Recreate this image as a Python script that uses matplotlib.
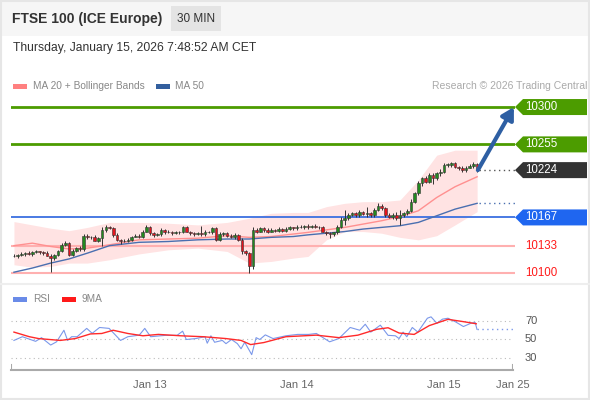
import numpy as np
import matplotlib
matplotlib.use("Agg")
import matplotlib.pyplot as plt
from matplotlib.patches import Rectangle, Polygon
from matplotlib.transforms import IdentityTransform, blended_transform_factory

plt.rcParams["font.family"] = ["Liberation Sans", "DejaVu Sans"]

# 30 min candles, index 0 = first visible bar
first_open = 10121
closes = [10120, 10122, 10123, 10124, 10123, 10125, 10126, 10125, 10124, 10121,
          10118, 10122, 10126, 10134, 10136, 10122, 10127, 10130, 10129, 10145,
          10143, 10144, 10139, 10142, 10152, 10155, 10154, 10146, 10140, 10138,
          10139, 10140, 10144, 10145, 10144, 10150, 10156, 10148, 10146, 10147,
          10152, 10149, 10150, 10148, 10149, 10150, 10155, 10150, 10148, 10147,
          10148, 10147, 10150, 10149, 10154, 10140, 10147, 10148, 10145, 10143,
          10146, 10140, 10126, 10124, 10108, 10152, 10150, 10154, 10152, 10150,
          10152, 10151, 10153, 10151, 10153, 10155, 10154, 10156, 10155, 10157,
          10155, 10157, 10156, 10155, 10150, 10148, 10147, 10149, 10156, 10164,
          10166, 10170, 10172, 10170, 10173, 10171, 10172, 10170, 10176, 10181,
          10178, 10170, 10168, 10170, 10166, 10170, 10172, 10175, 10186, 10196,
          10208, 10214, 10210, 10218, 10214, 10220, 10222, 10230, 10230, 10232,
          10228, 10227, 10224, 10227, 10229, 10231, 10224]
wick_up = [2, 1, 2, 1, 2, 1, 2, 1, 1, 2,
           2, 1, 2, 2, 3, 1, 2, 1, 2, 2,
           2, 1, 2, 2, 3, 3, 2, 1, 2, 1,
           2, 2, 1, 2, 2, 2, 2, 1, 2, 1,
           2, 1, 2, 1, 2, 1, 2, 2, 1, 2,
           2, 9, 2, 1, 2, 1, 2, 2, 1, 2,
           2, 1, 2, 2, 1, 3, 2, 2, 1, 2,
           2, 1, 2, 1, 2, 2, 1, 2, 2, 1,
           2, 1, 2, 1, 2, 1, 2, 1, 2, 3,
           10, 2, 2, 1, 3, 2, 8, 2, 2, 3,
           2, 1, 2, 2, 3, 6, 2, 2, 3, 2,
           3, 2, 3, 2, 3, 2, 3, 2, 3, 2,
           2, 1, 2, 2, 2, 3, 2]
wick_dn = [1, 2, 1, 2, 1, 2, 1, 2, 2, 1,
           17, 2, 2, 1, 2, 2, 1, 2, 2, 2,
           2, 2, 1, 2, 10, 2, 1, 2, 2, 3,
           1, 2, 2, 1, 2, 2, 1, 2, 2, 1,
           2, 2, 1, 2, 1, 2, 2, 1, 2, 2,
           1, 2, 2, 1, 2, 2, 1, 2, 2, 1,
           2, 2, 3, 2, 8, 3, 2, 1, 2, 2,
           1, 2, 2, 1, 2, 1, 2, 2, 1, 2,
           2, 1, 2, 2, 1, 2, 5, 2, 2, 2,
           6, 2, 1, 2, 2, 1, 3, 2, 2, 1,
           2, 2, 2, 3, 2, 8, 2, 2, 2, 2,
           2, 3, 2, 2, 7, 2, 3, 2, 2, 2,
           2, 3, 2, 2, 1, 2, 2]

# moving averages / bollinger bands read at these bar indices
ma_idx = [0, 5, 10, 15, 20, 26, 34, 42, 50, 58, 64, 70, 76, 80, 85, 90, 95, 100, 105, 110, 115, 120, 126]
ma20 = [10133, 10136, 10132, 10129, 10130, 10134, 10140, 10141, 10142, 10145, 10143, 10144,
        10147, 10149, 10152, 10155, 10159, 10163, 10168, 10175, 10191, 10204, 10216]
ma50 = [10101, 10106, 10112, 10117, 10124, 10133, 10137, 10138, 10140, 10141, 10141, 10143,
        10144, 10146, 10148, 10150, 10153, 10155, 10157, 10161, 10169, 10177, 10184]
bb_upper = [10162, 10158, 10154, 10151, 10155, 10161, 10161, 10160, 10158, 10161, 10166, 10172,
            10173, 10173, 10180, 10184, 10186, 10186, 10188, 10212, 10242, 10248, 10248]
bb_lower = [10110, 10107, 10108, 10112, 10112, 10116, 10123, 10128, 10130, 10126, 10112, 10114,
            10118, 10120, 10140, 10150, 10150, 10148, 10143, 10140, 10145, 10158, 10174]

# price levels
res_levels = [10300, 10255]
last_price = 10224
pivot = 10167
sup_levels = [10133, 10100]

# RSI panel
rsi_idx = [0, 2.3, 5.9, 7.5, 10, 11.6, 13.6, 14.6, 15.7, 17.2, 19.8, 21.3, 23.3, 25.9, 29, 31,
           34.1, 35.6, 37.2, 41.3, 44.4, 45.9, 46.9, 49.5, 52, 52.6, 53.6, 54.6, 56.7, 57.7,
           59.2, 60.8, 61.8, 62.8, 64.7, 65.9, 66.9, 68.4, 70.5, 74, 77.2, 80.2, 82.3, 85.9,
           88.4, 91.5, 94.1, 95.6, 97.1, 99.7, 101.8, 103.8, 104.8, 105.9, 106.9, 108.4,
           109.9, 112.5, 113.5, 115.1, 116.6, 118.1, 120.2, 122.3, 124.3, 125.5, 126]
rsi_val = [49, 53, 48, 52, 44, 47.5, 60, 49, 53, 53, 62, 56.7, 63, 62, 49, 53,
           54.7, 62, 53, 54.5, 54.5, 59, 50, 51, 53, 46, 54, 47, 49, 45.5,
           50, 45.5, 40, 47, 33.6, 52, 50, 55, 51, 54, 55.5, 55.5, 56.5, 47.5,
           51, 63, 60, 66.5, 58, 65.5, 54.5, 54, 51, 58, 53, 63,
           58, 73, 74.5, 67.5, 72, 73, 69, 64, 67.5, 68.5, 61]
ma9_idx = [0, 4.2, 6.7, 12.6, 16.7, 20.8, 23.9, 27, 31, 35.1, 39.3, 45.4, 51.5, 57.7, 61.8,
           64.4, 68, 74, 82.3, 88.4, 93.6, 98.7, 101.8, 104.8, 108.9, 113, 118.1, 122.3, 125.8]
ma9_val = [58, 53, 51, 49, 51, 56, 56.5, 60, 56.5, 54, 55.5, 54, 53, 51, 49,
           44.5, 46.7, 53, 54.7, 52, 54.7, 61, 62.7, 57, 55.5, 65, 71.8, 69.3, 67]
rsi_levels = [70, 50, 30]

date_ticks = [37, 77, 117, 135.8]
date_labels = ["Jan 13", "Jan 14", "Jan 15", "Jan 25"]

W, H = 590, 400
def fx(px):
    return px / W
def fy(py):
    return 1 - py / H

fig = plt.figure(figsize=(W / 100, H / 100), dpi=100)
ident = IdentityTransform()

# header band + frame
fig.patches.append(Rectangle((0, fy(36)), 1, 36 / H, transform=fig.transFigure,
                             facecolor="#f6f6f6", edgecolor="none", zorder=0))
fig.patches.append(Rectangle((fx(171), fy(31)), 50 / W, 25 / H, transform=fig.transFigure,
                             facecolor="#e4e4e4", edgecolor="none", zorder=1))
fig.patches.append(Rectangle((0.001, 0.002), 0.997, 0.995, transform=fig.transFigure,
                             facecolor="none", edgecolor="#e6e6e6", lw=1.5, zorder=1))
fig.lines.append(plt.Line2D([0, 1], [fy(284), fy(284)], transform=fig.transFigure,
                            color="#eeeeee", lw=1.5))

fig.text(fx(12), fy(19), "FTSE 100 (ICE Europe)", fontsize=10, fontweight="bold",
         color="#333333", va="center")
fig.text(fx(196), fy(19), "30 MIN", fontsize=8.5, color="#333333", va="center", ha="center")
fig.text(fx(13), fy(48), "Thursday, January 15, 2026 7:48:52 AM CET", fontsize=8.7,
         color="#333333", va="center")

# legends
def swatch(px, py, color):
    fig.patches.append(Rectangle((fx(px), fy(py + 3)), 14 / W, 5 / H, transform=fig.transFigure,
                                 facecolor=color, edgecolor="none"))

swatch(13, 86, "#ff8080")
fig.text(fx(33), fy(86), "MA 20 + Bollinger Bands", fontsize=7.3, color="#888888", va="center")
swatch(156, 86, "#335f9e")
fig.text(fx(175), fy(86), "MA 50", fontsize=7.3, color="#888888", va="center")
fig.text(fx(587), fy(86), "Research \u00a9 2026 Trading Central", fontsize=7.5,
         color="#aaaaaa", va="center", ha="right")
swatch(13, 299, "#6a8be8")
fig.text(fx(33), fy(299), "RSI", fontsize=7.3, color="#888888", va="center")
swatch(62, 299, "#ff1a1a")
fig.text(fx(82), fy(299), "9MA", fontsize=7.3, color="#888888", va="center")

# ---- main price chart ----
ax = fig.add_axes([fx(11), fy(283), 504 / W, 188 / H])
ax.set_xlim(-0.8, 136.3)
ax.set_ylim(10088, 10314.5)
ax.axis("off")

c = np.array(closes, dtype=float)
o = np.r_[first_open, c[:-1]]
x = np.arange(len(c))
hi = np.maximum(o, c) + np.array(wick_up)
lo = np.minimum(o, c) - np.array(wick_dn)

ax.fill_between(ma_idx, bb_lower, bb_upper, color="#ffe3e3", lw=0, zorder=1)
ax.plot(ma_idx, ma20, color="#ff9090", lw=1, zorder=2)
ax.plot(ma_idx, ma50, color="#4a6fb0", lw=1, zorder=2)

for lvl in res_levels:
    ax.axhline(lvl, color="#4c9c00", lw=2, zorder=1)
ax.axhline(pivot, color="#3a6fe0", lw=1.3, zorder=1)
for lvl in sup_levels:
    ax.axhline(lvl, color="#ffb0b0", lw=1.5, zorder=1)

cols = np.where(c >= o, "#23891e", "#e3141d")
ax.vlines(x, lo, hi, color="#333333", lw=0.7, zorder=3)
body = np.where(np.abs(c - o) < 0.8, 0.8, c - o)
ax.bar(x, body, bottom=o, width=0.72, color=cols, edgecolor="#333333", lw=0.4, zorder=4)

ax.plot([len(c) - 0.5, 136.3], [last_price, last_price], ls=(0, (1, 2.5)), color="#555555",
        lw=1, clip_on=False)
ax.plot([len(c) - 0.5, 136.3], [ma50[-1], ma50[-1]], ls=(0, (1, 2.5)), color="#4a6fb0",
        lw=1, clip_on=False)
ax.annotate("", xy=(136.0, res_levels[0]), xytext=(len(c) - 0.8, last_price),
            arrowprops=dict(arrowstyle="-|>,head_length=0.7,head_width=0.4", color="#2e5fa3",
                            lw=3, shrinkA=0, shrinkB=0), annotation_clip=False, zorder=6)

# price tags on the right
def tag(level, color):
    yc = ax.transData.transform((0, level))[1]
    pts = [(515, yc), (523, yc + 8), (587, yc + 8), (587, yc - 8), (523, yc - 8)]
    fig.patches.append(Polygon(pts, closed=True, transform=ident, facecolor=color,
                               edgecolor="none", zorder=5))
    fig.text(525, yc, f"{level}", transform=ident, fontsize=8.3, color="white",
             va="center", ha="left", zorder=6)

for lvl in res_levels:
    tag(lvl, "#4c9c00")
tag(last_price, "#333333")
tag(pivot, "#1f66f0")
for lvl in sup_levels:
    yc = ax.transData.transform((0, lvl))[1]
    fig.text(525, yc, f"{lvl}", transform=ident, fontsize=8.3, color="#ff1a1a",
             va="center", ha="left")

# ---- RSI panel ----
rax = fig.add_axes([fx(11), fy(370), 502 / W, 60 / H])
rax.set_xlim(-0.8, 135.8)
rax.set_ylim(17.0, 81.9)
for s in ["top", "left", "right"]:
    rax.spines[s].set_visible(False)
rax.spines["bottom"].set_color("#aaaaaa")
rax.spines["bottom"].set_linewidth(1.5)
rax.set_yticks([])
rax.set_xticks(date_ticks, date_labels)
rax.tick_params(axis="x", length=0, pad=7, labelsize=8, labelcolor="#666666")
rax.axvline(-0.8, ymin=0, ymax=0.09, color="#aaaaaa", lw=1.5)
rax.axvline(135.8, ymin=0, ymax=0.09, color="#aaaaaa", lw=1.5)

ylab = blended_transform_factory(fig.transFigure, rax.transData)
for v in rsi_levels:
    rax.axhline(v, color="#bbbbbb", ls=(0, (1, 3)), lw=0.8)
    rax.text(fx(525), v, str(v), transform=ylab, fontsize=8, color="#555555", va="center")

rax.plot(rsi_idx, rsi_val, color="#7b98ea", lw=0.8)
rax.plot(ma9_idx, ma9_val, color="#ff2a2a", lw=1)
rax.plot([rsi_idx[-1], 135.8], [rsi_val[-1], rsi_val[-1]], color="#7b98ea",
         ls=(0, (1, 2.5)), lw=1)

fig.savefig("out.png", dpi=100)
